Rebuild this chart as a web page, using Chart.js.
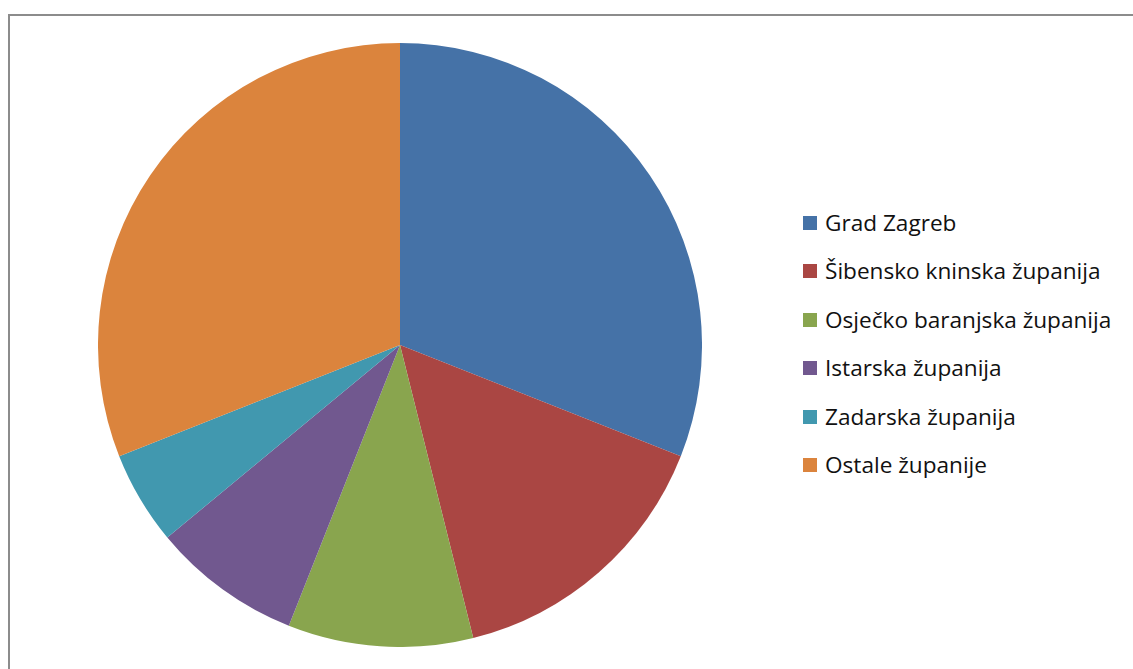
<!DOCTYPE html>
<html>
<head>
<meta charset="utf-8">
<script src="https://cdn.jsdelivr.net/npm/chart.js@4/dist/chart.umd.min.js"></script>
<style>
    body { margin: 0; background: #fff; width: 1133px; height: 669px; overflow: hidden; position: relative; }
    #frame { position: absolute; left: 8px; top: 14px; width: 1200px; height: 700px; border-left: 2px solid #8c8c8c; border-top: 2px solid #8c8c8c; }
    #pieBox { position: absolute; left: 98px; top: 43px; width: 604px; height: 604px; }
    #legend { position: absolute; left: 803px; top: 208px; font-family: "Open Sans", sans-serif; font-size: 22.6px; color: #111; }
    .row { display: flex; align-items: center; height: 30px; margin-bottom: 18.4px; }
    .box { width: 14px; height: 14px; margin-right: 8px; }
    .row span { line-height: 30px; }
</style>
</head>
<body>
<div id="frame"></div>
<div id="pieBox"><canvas id="PieChart" width="604" height="604"></canvas></div>
<div id="legend"></div>
<script>
// categories and share (%)
var labels = ["Grad Zagreb", "Šibensko kninska županija", "Osječko baranjska županija",
              "Istarska županija", "Zadarska županija", "Ostale županije"];
var values = [31, 15.1, 9.9, 8, 5, 31];
var colors = ["#4572A7", "#AA4643", "#89A54E", "#71588F", "#4198AF", "#DB843D"];

var config = {
    type: "pie",
    data: {
        labels: labels,
        datasets: [{
            data: values,
            backgroundColor: colors,
            borderWidth: 0
        }]
    },
    options: {
        responsive: false,
        animation: false,
        layout: { padding: 0 },
        plugins: {
            legend: { display: false },
            tooltip: { enabled: false }
        }
    }
};
var pie = new Chart(document.getElementById("PieChart"), config);

//legend built from the same arrays
var legendEl = document.getElementById("legend");
for (let i = 0; i < labels.length; i++) {
    var row = document.createElement("div");
    row.className = "row";
    var box = document.createElement("div");
    box.className = "box";
    box.style.background = colors[i];
    var txt = document.createElement("span");
    txt.textContent = labels[i];
    row.appendChild(box);
    row.appendChild(txt);
    legendEl.appendChild(row);
}
</script>
</body>
</html>
